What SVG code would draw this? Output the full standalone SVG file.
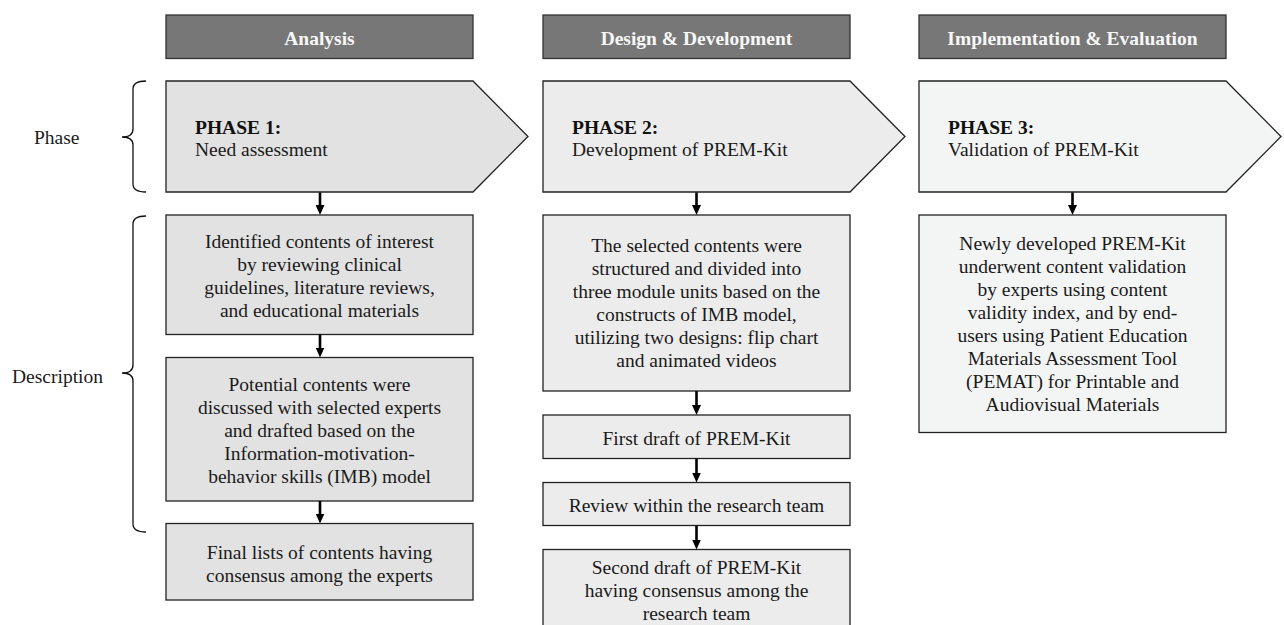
<svg xmlns="http://www.w3.org/2000/svg" width="1284" height="625" viewBox="0 0 1284 625">
<style>
text{font-family:"Liberation Serif","Times New Roman",serif;font-size:19.5px;fill:#1a1a1a}
.hdr rect{fill:#777777;stroke:#333333;stroke-width:1.3}
.hdr text{font-weight:bold;fill:#f7f7f7;text-anchor:middle}
.box{stroke:#222222;stroke-width:1.3}
.c1{fill:#e2e2e2}.c2{fill:#ececec}.c3{fill:#f3f4f4}
.ctr{text-anchor:middle}
.b{font-weight:bold;fill:#111111}
.brace{fill:none;stroke:#111111;stroke-width:1.3}
.conn line{stroke:#000000;stroke-width:2.6}
</style>
<defs>
<marker id="ah" markerWidth="10" markerHeight="9" refX="5" refY="4.5" orient="auto" markerUnits="userSpaceOnUse">
<path d="M0,0 L10,4.5 L0,9 z" fill="#000000"/>
</marker>
</defs>
<rect width="1284" height="625" fill="#ffffff"/>

<g id="labels">
<text x="34" y="144">Phase</text>
<path class="brace" d="M146,81 Q133,81 133,89 L133,129 Q133,137 122,137 Q133,137 133,145 L133,184 Q133,192 146,192"/>
<text x="12" y="382.5">Description</text>
<path class="brace" d="M146,216 Q133,216 133,224 L133,365 Q133,373 122,373 Q133,373 133,381 L133,524 Q133,532 146,532"/>
</g>

<g id="hdr1" class="hdr"><rect x="166" y="15" width="307" height="43.5"/><text x="319.5" y="45">Analysis</text></g>
<g id="hdr2" class="hdr"><rect x="543" y="15" width="307" height="43.5"/><text x="696.5" y="45">Design &amp; Development</text></g>
<g id="hdr3" class="hdr"><rect x="919" y="15" width="307" height="43.5"/><text x="1072.5" y="45">Implementation &amp; Evaluation</text></g>

<g id="phase1"><path class="box c1" d="M166,81 L473,81 L528,136.5 L473,192 L166,192 Z"/><text class="b" x="195" y="133.5">PHASE 1:</text><text x="195" y="156">Need assessment</text></g>
<g id="phase2"><path class="box c2" d="M543,81 L850,81 L905,136.5 L850,192 L543,192 Z"/><text class="b" x="572" y="133.5">PHASE 2:</text><text x="572" y="156">Development of PREM-Kit</text></g>
<g id="phase3"><path class="box c3" d="M919,81 L1226,81 L1281,136.5 L1226,192 L919,192 Z"/><text class="b" x="948" y="133.5">PHASE 3:</text><text x="948" y="156">Validation of PREM-Kit</text></g>

<g id="d1a"><rect class="box c1" x="166" y="215" width="307" height="119.5"/>
<text class="ctr" x="319.5" y="248">Identified contents of interest</text>
<text class="ctr" x="319.5" y="271">by reviewing clinical</text>
<text class="ctr" x="319.5" y="294">guidelines, literature reviews,</text>
<text class="ctr" x="319.5" y="317">and educational materials</text></g>
<g id="d1b"><rect class="box c1" x="166" y="357.5" width="307" height="143.5"/>
<text class="ctr" x="319.5" y="390.5">Potential contents were</text>
<text class="ctr" x="319.5" y="413.5">discussed with selected experts</text>
<text class="ctr" x="319.5" y="436.5">and drafted based on the</text>
<text class="ctr" x="319.5" y="459.5">Information-motivation-</text>
<text class="ctr" x="319.5" y="482.5">behavior skills (IMB) model</text></g>
<g id="d1c"><rect class="box c1" x="166" y="523.5" width="307" height="76.5"/>
<text class="ctr" x="319.5" y="559">Final lists of contents having</text>
<text class="ctr" x="319.5" y="582">consensus among the experts</text></g>

<g id="d2a"><rect class="box c2" x="543" y="215" width="307" height="176"/>
<text class="ctr" x="696.5" y="252">The selected contents were</text>
<text class="ctr" x="696.5" y="275">structured and divided into</text>
<text class="ctr" x="696.5" y="298">three module units based on the</text>
<text class="ctr" x="696.5" y="321">constructs of IMB model,</text>
<text class="ctr" x="696.5" y="344">utilizing two designs: flip chart</text>
<text class="ctr" x="696.5" y="367">and animated videos</text></g>
<g id="d2b"><rect class="box c2" x="543" y="415" width="307" height="43.5"/>
<text class="ctr" x="696.5" y="444.5">First draft of PREM-Kit</text></g>
<g id="d2c"><rect class="box c2" x="543" y="482.5" width="307" height="43"/>
<text class="ctr" x="696.5" y="511.5">Review within the research team</text></g>
<g id="d2d"><rect class="box c2" x="543" y="549.5" width="307" height="85"/>
<text class="ctr" x="696.5" y="574">Second draft of PREM-Kit</text>
<text class="ctr" x="696.5" y="597">having consensus among the</text>
<text class="ctr" x="696.5" y="620">research team</text></g>

<g id="d3a"><rect class="box c3" x="919" y="215" width="307" height="217.5"/>
<text class="ctr" x="1072.5" y="250">Newly developed PREM-Kit</text>
<text class="ctr" x="1072.5" y="273">underwent content validation</text>
<text class="ctr" x="1072.5" y="296">by experts using content</text>
<text class="ctr" x="1072.5" y="319">validity index, and by end-</text>
<text class="ctr" x="1072.5" y="342">users using Patient Education</text>
<text class="ctr" x="1072.5" y="365">Materials Assessment Tool</text>
<text class="ctr" x="1072.5" y="388">(PEMAT) for Printable and</text>
<text class="ctr" x="1072.5" y="411">Audiovisual Materials</text></g>

<g id="connectors" class="conn">
<line x1="320" y1="192.5" x2="320" y2="210" marker-end="url(#ah)"/>
<line x1="320" y1="334.5" x2="320" y2="352.5" marker-end="url(#ah)"/>
<line x1="320" y1="501" x2="320" y2="518.5" marker-end="url(#ah)"/>
<line x1="696.5" y1="192.5" x2="696.5" y2="210" marker-end="url(#ah)"/>
<line x1="696.5" y1="391" x2="696.5" y2="410" marker-end="url(#ah)"/>
<line x1="696.5" y1="458.5" x2="696.5" y2="477.5" marker-end="url(#ah)"/>
<line x1="696.5" y1="525.5" x2="696.5" y2="544.5" marker-end="url(#ah)"/>
<line x1="1072.5" y1="192.5" x2="1072.5" y2="210" marker-end="url(#ah)"/>
</g>
</svg>
